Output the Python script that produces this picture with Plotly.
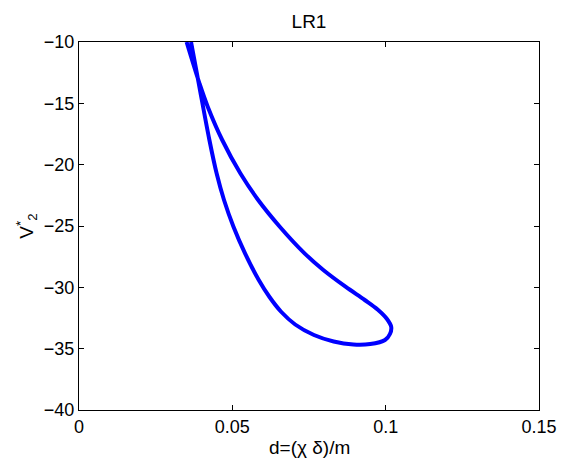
import plotly.graph_objects as go

# Curve (single path: steep branch down, around loop, upper branch up)
d_vals = [0.036534, 0.039045, 0.042521, 0.044871, 0.047285, 0.050375, 0.054142,
          0.058616, 0.062124, 0.065987, 0.070493, 0.076609, 0.083047, 0.089485,
          0.094957, 0.099785, 0.101395, 0.101813, 0.100429, 0.097371, 0.093187,
          0.086910, 0.079667, 0.073551, 0.065472, 0.058423, 0.052597, 0.046706,
          0.041974, 0.039270, 0.035086]
v_vals = [-10.000, -13.367, -17.989, -20.704, -22.880, -25.057, -27.226,
          -29.402, -30.788, -32.011, -33.030, -33.886, -34.416, -34.660,
          -34.620, -34.293, -33.804, -33.234, -32.582, -31.807, -31.033,
          -29.948, -28.587, -27.226, -25.057, -22.880, -20.704, -17.989,
          -15.274, -13.367, -10.000]

x_ticks = [0, 0.05, 0.1, 0.15]
x_tick_text = ["0", "0.05", "0.1", "0.15"]
y_ticks = [-40, -35, -30, -25, -20, -15, -10]
y_tick_text = ["\u221240", "\u221235", "\u221230", "\u221225", "\u221220", "\u221215", "\u221210"]

font_family = "Liberation Sans, Arial, Helvetica, sans-serif"

fig = go.Figure()
fig.add_trace(go.Scatter(
    x=d_vals, y=v_vals, mode="lines",
    line=dict(color="#0000FF", width=4, shape="spline", smoothing=1.0),
    showlegend=False, hoverinfo="skip",
))

axis_common = dict(
    showgrid=False, zeroline=False, showline=True, linecolor="black", linewidth=1,
    mirror="ticks", ticks="inside", ticklen=5, tickwidth=1, tickcolor="black",
    tickfont=dict(family=font_family, size=18, color="black"),
)

fig.update_layout(
    width=569, height=466,
    margin=dict(l=79, r=24, t=42, b=56),
    paper_bgcolor="white", plot_bgcolor="white",
    font=dict(family=font_family, size=18, color="black"),
    title=dict(text="LR1", x=0.5, xanchor="center", xref="paper",
               y=1 - 21 / 466, yanchor="middle",
               font=dict(family=font_family, size=19, color="black")),
    xaxis=dict(range=[0, 0.15], tickvals=x_ticks, ticktext=x_tick_text,
               **axis_common),
    yaxis=dict(range=[-40, -10], tickvals=y_ticks, ticktext=y_tick_text,
               **axis_common),
    annotations=[
        dict(text="d=(\u03c7 \u03b4)/m", xref="paper", yref="paper",
             x=0.5, y=-37 / 368, xanchor="center", yanchor="middle",
             showarrow=False, font=dict(family=font_family, size=19, color="black")),
        dict(text="V<sup>*</sup><sub>2</sub>", xref="paper", yref="paper",
             x=-54 / 466, y=0.5, xanchor="center", yanchor="middle", textangle=-90,
             showarrow=False, font=dict(family=font_family, size=19, color="black")),
    ],
)

fig.write_html("out.html")
